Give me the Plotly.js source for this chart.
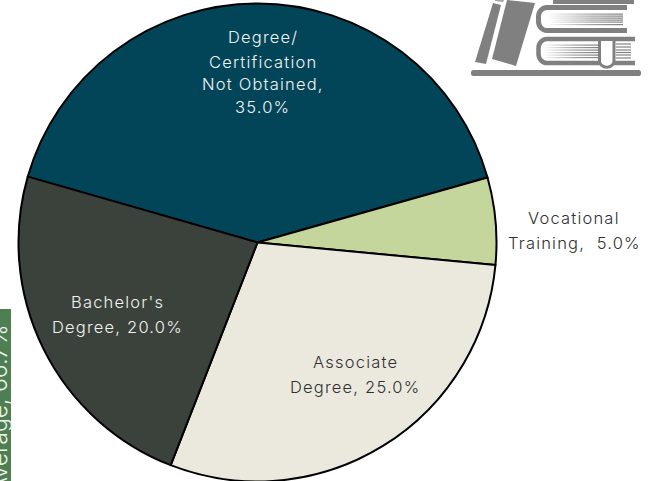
<!DOCTYPE html>
<html><head><meta charset="utf-8">
<script src="https://cdn.plot.ly/plotly-3.0.1.min.js"></script>
<style>
html,body{margin:0;padding:0;background:#fff;overflow:hidden;width:651px;height:481px}
#c{width:651px;height:483px}
.annotation-text{letter-spacing:1.2px}
.annotation:last-of-type .annotation-text{letter-spacing:0}
</style></head><body><div id="c"></div>
<script>
const categories = ["Degree/ Certification Not Obtained", "Vocational Training", "Associate Degree", "Bachelor's Degree"];
const values = [35, 5, 25, 20];
const sliceColors = ["#024458", "#c5d69d", "#ebe9de", "#3b423c"];
const labelLines = [
  ["Degree/", "Certification", "Not Obtained,", "35.0%"],
  ["Vocational", "Training,  5.0%"],
  ["Associate", "Degree, 25.0%"],
  ["Bachelor's", "Degree, 20.0%"]
];
const labelX = [262.5, 574, 355, 117];
const labelY = [[37, 62, 84, 107], [218, 243], [362, 387], [302, 327]];
const labelColors = ["#f2f5f5", "#303030", "#303030", "#f2f2ee"];
const sideLabel = "Average, 66.7%";

const W = 651, H = 483;
const px = x => x / W, py = y => 1 - y / H;
const fam = "Inter, sans-serif";

const annotations = [];
labelLines.forEach((lines, i) => lines.forEach((t, j) => annotations.push({
  text: t.replace(/  /g, "\u00a0 "), xref: "paper", yref: "paper", x: px(labelX[i]), y: py(labelY[i][j]),
  xanchor: "center", yanchor: "middle", showarrow: false,
  font: {family: fam, size: 16.5, weight: 300, color: labelColors[i]}
})));
annotations.push({
  text: sideLabel, xref: "paper", yref: "paper", x: px(-1), y: py(409),
  xanchor: "center", yanchor: "middle", showarrow: false, textangle: -90,
  font: {family: fam, size: 23, weight: 300, color: "#eef4ee"}
});

function line(x1, x2, y, c) { return `<line x1="${x1}" x2="${x2}" y1="${y}" y2="${y}" stroke="${c}" stroke-width="1.2"/>`; }
const g = "#808080";
let icon = `<svg xmlns="http://www.w3.org/2000/svg" width="651" height="483" viewBox="0 0 651 483">
<defs><linearGradient id="f"><stop offset="0" stop-color="${g}" stop-opacity="0"/><stop offset="0.6" stop-color="${g}" stop-opacity="0.75"/><stop offset="1" stop-color="${g}"/></linearGradient>
<filter id="b" x="-5%" y="-5%" width="110%" height="110%"><feGaussianBlur stdDeviation="0.45"/></filter></defs>
<g filter="url(#b)">
<rect x="471" y="70" width="170" height="6" rx="2.5" fill="${g}"/>
<polygon points="493,3 501,5 486,64 475,62" fill="${g}"/>
<polygon points="507,0 535,3 516,66 492,59" fill="${g}"/>
<polygon points="495,0 504,0 503,2 495,1" fill="${g}" opacity="0.7"/>
<rect x="553" y="-2" width="81" height="6" fill="${g}"/>
<path d="M575,0 a8,6 0 0 0 15,0 z" fill="${g}"/>
<path d="M627,7.5 H547 a8.5,9 0 0 0 -8.5,9 v5 a8.5,9 0 0 0 8.5,9 H627" fill="none" stroke="${g}" stroke-width="5"/>
<path d="M635,39 H547 a8.5,9 0 0 0 -8.5,9 v6 a8.5,9 0 0 0 8.5,9 H635" fill="none" stroke="${g}" stroke-width="4.5"/>`;
[13.5, 15.5, 17.5, 19.5, 21.5, 24].forEach(y => icon += `<rect x="547" y="${y}" width="76" height="1.2" fill="url(#f)"/>`);
[44.5, 47, 49.5, 52, 54.5, 57].forEach(y => icon += `<rect x="542" y="${y}" width="56" height="1.2" fill="url(#f)"/>`);
[44, 47, 50, 52.5, 55, 58].forEach(y => icon += line(616, 631, y, g));
icon += `<path d="M599.5,41 V61 a7,6 0 0 0 14.5,0 V41" fill="#fff" stroke="${g}" stroke-width="3"/></g></svg>`;

Plotly.newPlot("c", [{
  type: "pie",
  labels: categories,
  values: values,
  sort: false,
  direction: "clockwise",
  rotation: -74,
  textinfo: "none",
  hoverinfo: "label+percent",
  marker: {colors: sliceColors, line: {color: "#000", width: 2}},
  domain: {x: [px(18), px(497)], y: [py(481.5), py(3.5)]},
  showlegend: false
}], {
  width: W, height: H,
  margin: {l: 0, r: 0, t: 0, b: 0},
  paper_bgcolor: "#fff",
  showlegend: false,
  annotations: annotations,
  shapes: [{type: "rect", xref: "paper", yref: "paper", x0: px(-2), x1: px(11), y0: py(309), y1: py(483),
    fillcolor: "#4e7f52", line: {width: 0}, layer: "below"}],
  images: [{source: "data:image/svg+xml;base64," + btoa(icon), xref: "paper", yref: "paper",
    x: 0, y: 1, sizex: 1, sizey: 1, xanchor: "left", yanchor: "top", sizing: "stretch", layer: "above"}]
}, {displayModeBar: false, staticPlot: true});
</script></body></html>
